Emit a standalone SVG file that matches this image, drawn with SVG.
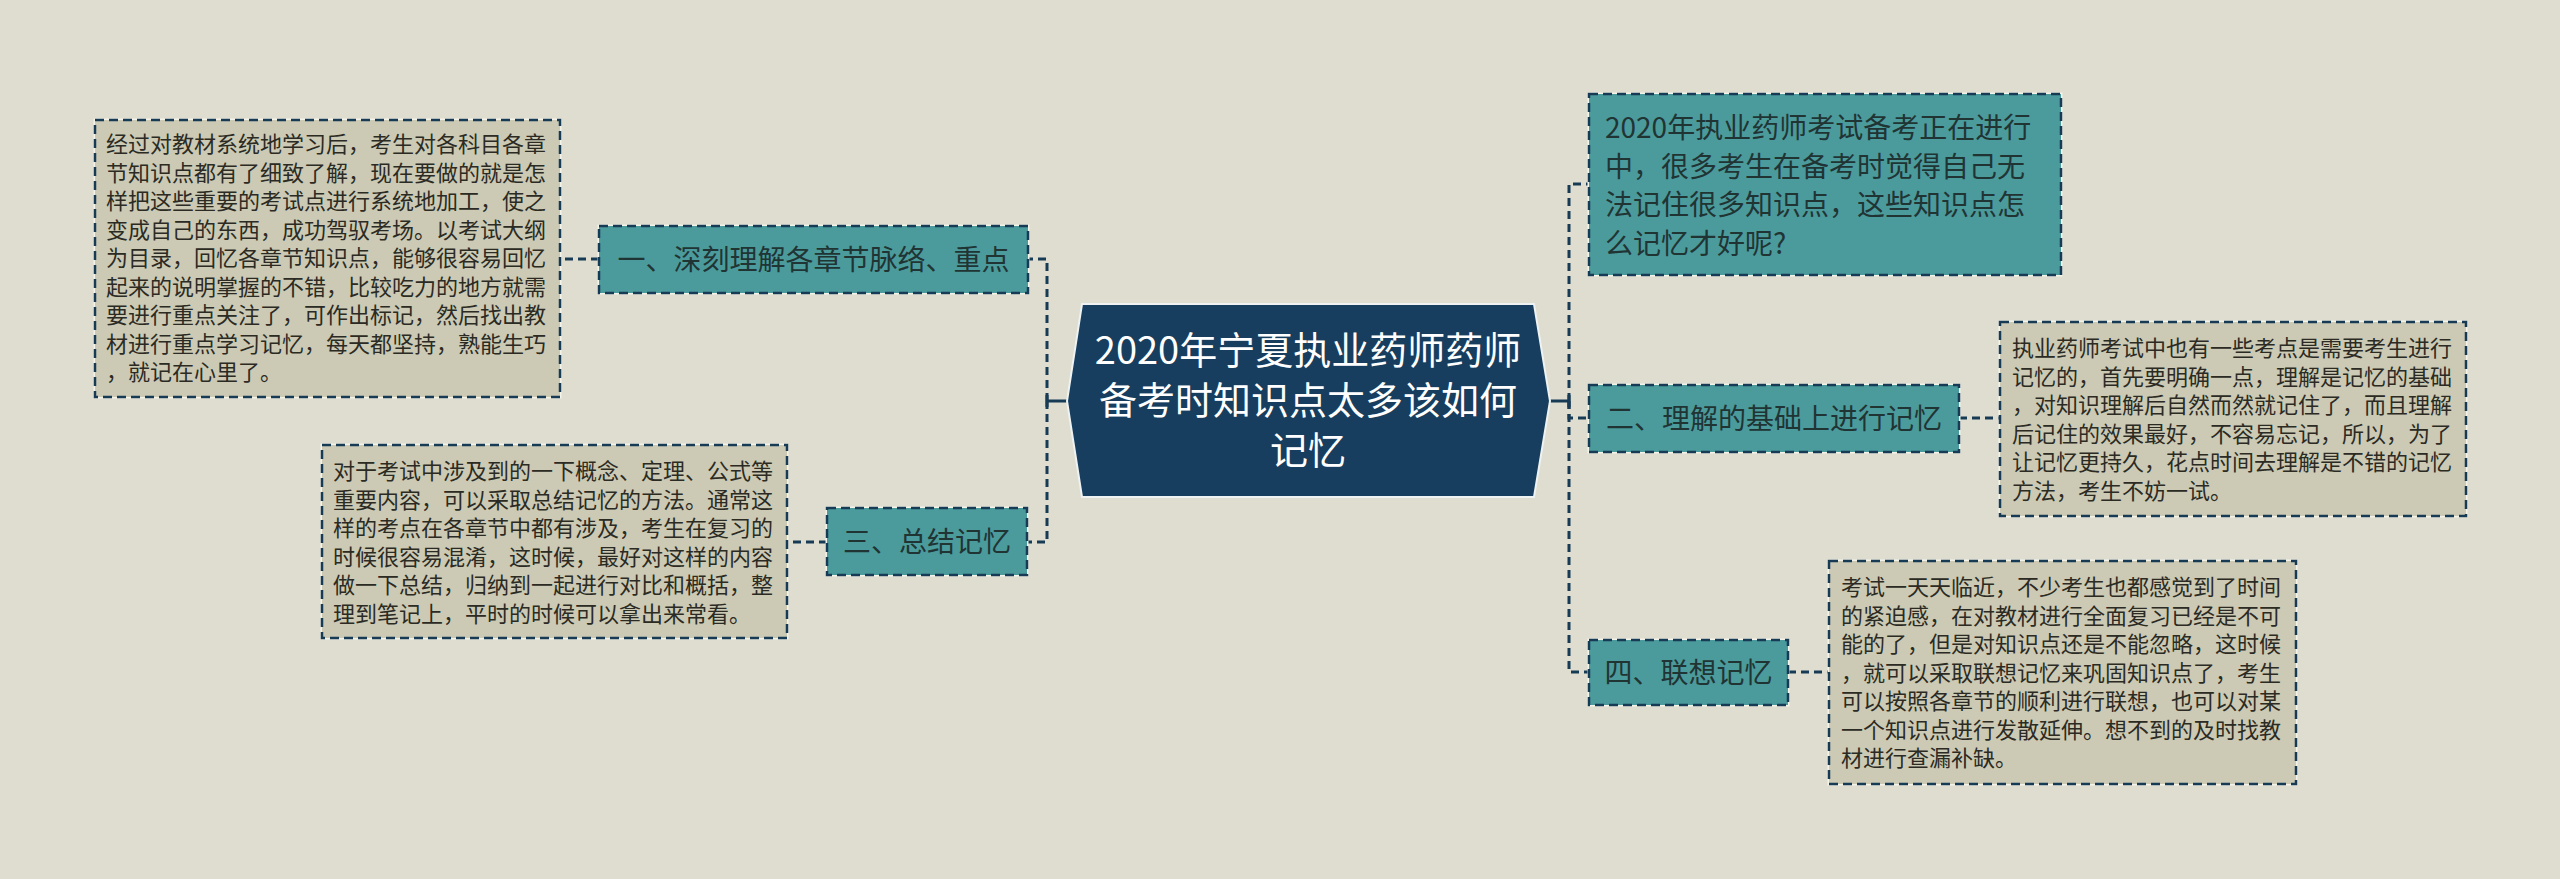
<svg xmlns="http://www.w3.org/2000/svg" width="2560" height="879" viewBox="0 0 2560 879">
<style>
.bg{fill:#dfddcf}
.under{fill:none;stroke:#f4f3ea;stroke-width:3}
.teal{fill:#4b9b9c;stroke:#173a55;stroke-width:2.5;stroke-dasharray:9 5}
.detail{fill:#cccab4;stroke:#173a55;stroke-width:2.5;stroke-dasharray:9 5}
.center{fill:#173e5e;stroke:#eef2f2;stroke-width:2}
.conn{fill:none;stroke:#173a55;stroke-width:3;stroke-dasharray:8 5}
.solid{fill:none;stroke:#173a55;stroke-width:3}
.t{font-family:"Noto Sans CJK SC","Microsoft YaHei",sans-serif;}
.node{font-size:28px;fill:#213434;text-anchor:middle}
.ctext{font-size:38px;fill:#ffffff;text-anchor:middle}
.dtext{font-size:22px;fill:#2b2b24}
.qtext{font-size:28px;fill:#213434}
</style>
<rect class="bg" x="0" y="0" width="2560" height="879"/>

<g id="connectors">
  <path class="solid" d="M1067 401 H1047 M1047 395 V407"/>
  <path class="conn" d="M1047 401 V259 H1028"/>
  <path class="conn" d="M1047 401 V542 H1027"/>
  <path class="conn" d="M599 259 H560"/>
  <path class="conn" d="M827 542 H787"/>
  <path class="solid" d="M1550 401 H1569 M1569 395 V407"/>
  <path class="conn" d="M1569 401 V184 H1589"/>
  <path class="conn" d="M1569 401 V418 H1589"/>
  <path class="conn" d="M1569 401 V672 H1589"/>
  <path class="conn" d="M1959 418 H2000"/>
  <path class="conn" d="M1788 672 H1829"/>
</g>

<g id="center">
  <polygon class="center" points="1082,304 1534,304 1550,401 1534,497 1082,497 1067,401"/>
  <text class="t ctext" x="1308" y="364">2020年宁夏执业药师药师</text>
  <text class="t ctext" x="1308" y="414">备考时知识点太多该如何</text>
  <text class="t ctext" x="1308" y="464">记忆</text>
</g>

<g id="node1">
  <rect class="under" x="599" y="226" width="429" height="67"/>
  <rect class="teal" x="599" y="226" width="429" height="67"/>
  <text class="t node" x="813.5" y="270">一、深刻理解各章节脉络、重点</text>
</g>

<g id="detail1">
  <rect class="under" x="95" y="120" width="465" height="277"/>
  <rect class="detail" x="95" y="120" width="465" height="277"/>
  <text class="t dtext" x="106">
    <tspan x="106" y="152">经过对教材系统地学习后，考生对各科目各章</tspan>
    <tspan x="106" y="180.5">节知识点都有了细致了解，现在要做的就是怎</tspan>
    <tspan x="106" y="209">样把这些重要的考试点进行系统地加工，使之</tspan>
    <tspan x="106" y="237.5">变成自己的东西，成功驾驭考场。以考试大纲</tspan>
    <tspan x="106" y="266">为目录，回忆各章节知识点，能够很容易回忆</tspan>
    <tspan x="106" y="294.5">起来的说明掌握的不错，比较吃力的地方就需</tspan>
    <tspan x="106" y="323">要进行重点关注了，可作出标记，然后找出教</tspan>
    <tspan x="106" y="351.5">材进行重点学习记忆，每天都坚持，熟能生巧</tspan>
    <tspan x="106" y="380">，就记在心里了。</tspan>
  </text>
</g>

<g id="node3">
  <rect class="under" x="827" y="508" width="200" height="67"/>
  <rect class="teal" x="827" y="508" width="200" height="67"/>
  <text class="t node" x="927" y="552">三、总结记忆</text>
</g>

<g id="detail3">
  <rect class="under" x="322" y="445" width="465" height="193"/>
  <rect class="detail" x="322" y="445" width="465" height="193"/>
  <text class="t dtext">
    <tspan x="333" y="479">对于考试中涉及到的一下概念、定理、公式等</tspan>
    <tspan x="333" y="507.5">重要内容，可以采取总结记忆的方法。通常这</tspan>
    <tspan x="333" y="536">样的考点在各章节中都有涉及，考生在复习的</tspan>
    <tspan x="333" y="564.5">时候很容易混淆，这时候，最好对这样的内容</tspan>
    <tspan x="333" y="593">做一下总结，归纳到一起进行对比和概括，整</tspan>
    <tspan x="333" y="621.5">理到笔记上，平时的时候可以拿出来常看。</tspan>
  </text>
</g>

<g id="intro">
  <rect class="under" x="1589" y="94" width="472" height="181"/>
  <rect class="teal" x="1589" y="94" width="472" height="181"/>
  <text class="t qtext">
    <tspan x="1605" y="138">2020年执业药师考试备考正在进行</tspan>
    <tspan x="1605" y="176.5">中，很多考生在备考时觉得自己无</tspan>
    <tspan x="1605" y="215">法记住很多知识点，这些知识点怎</tspan>
    <tspan x="1605" y="253.5">么记忆才好呢?</tspan>
  </text>
</g>

<g id="node2">
  <rect class="under" x="1589" y="385" width="370" height="67"/>
  <rect class="teal" x="1589" y="385" width="370" height="67"/>
  <text class="t node" x="1774" y="429">二、理解的基础上进行记忆</text>
</g>

<g id="detail2">
  <rect class="under" x="2000" y="322" width="466" height="194"/>
  <rect class="detail" x="2000" y="322" width="466" height="194"/>
  <text class="t dtext">
    <tspan x="2012" y="356">执业药师考试中也有一些考点是需要考生进行</tspan>
    <tspan x="2012" y="384.5">记忆的，首先要明确一点，理解是记忆的基础</tspan>
    <tspan x="2012" y="413">，对知识理解后自然而然就记住了，而且理解</tspan>
    <tspan x="2012" y="441.5">后记住的效果最好，不容易忘记，所以，为了</tspan>
    <tspan x="2012" y="470">让记忆更持久，花点时间去理解是不错的记忆</tspan>
    <tspan x="2012" y="498.5">方法，考生不妨一试。</tspan>
  </text>
</g>

<g id="node4">
  <rect class="under" x="1589" y="640" width="199" height="65"/>
  <rect class="teal" x="1589" y="640" width="199" height="65"/>
  <text class="t node" x="1688.5" y="683">四、联想记忆</text>
</g>

<g id="detail4">
  <rect class="under" x="1829" y="561" width="467" height="223"/>
  <rect class="detail" x="1829" y="561" width="467" height="223"/>
  <text class="t dtext">
    <tspan x="1841" y="595">考试一天天临近，不少考生也都感觉到了时间</tspan>
    <tspan x="1841" y="623.5">的紧迫感，在对教材进行全面复习已经是不可</tspan>
    <tspan x="1841" y="652">能的了，但是对知识点还是不能忽略，这时候</tspan>
    <tspan x="1841" y="680.5">，就可以采取联想记忆来巩固知识点了，考生</tspan>
    <tspan x="1841" y="709">可以按照各章节的顺利进行联想，也可以对某</tspan>
    <tspan x="1841" y="737.5">一个知识点进行发散延伸。想不到的及时找教</tspan>
    <tspan x="1841" y="766">材进行查漏补缺。</tspan>
  </text>
</g>
</svg>
